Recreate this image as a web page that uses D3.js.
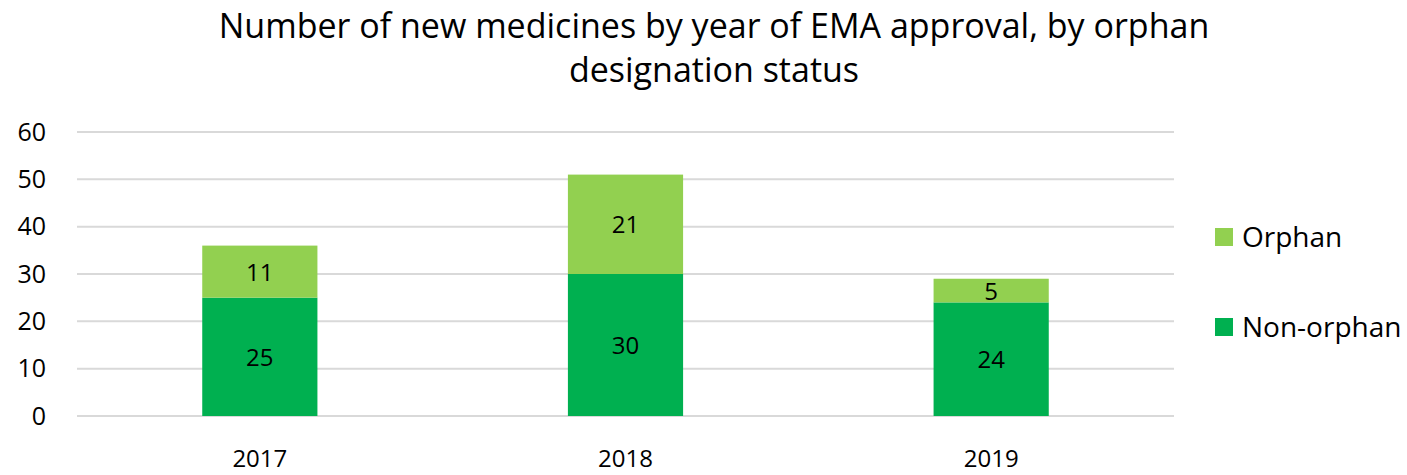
<!DOCTYPE html>
<html>
<head>
<meta charset="utf-8">
<script src="https://cdn.jsdelivr.net/npm/d3@7"></script>
<style>
  body { margin: 0; background: #fff; }
  text { font-family: "Open Sans", Lato, sans-serif; fill: #000; }
</style>
</head>
<body>
<svg class="chart" width="1407" height="475"></svg>
<script>

const years = ['2017', '2018', '2019'];
const nonOrphan = [25, 30, 24];
const orphan = [11, 21, 5];
const yTicks = [0, 10, 20, 30, 40, 50, 60];
const seriesNames = ['Non-orphan', 'Orphan'];
const titleLines = ['Number of new medicines by year of EMA approval, by orphan', 'designation status'];

const colors = { 'Non-orphan': '#00b050', 'Orphan': '#92d050' };

const svg = d3.select('.chart');

const margin = { top: 132, right: 233, bottom: 59, left: 77 };
const w = 1407, h = 475;

const x = d3.scaleBand()
    .domain(years)
    .range([margin.left, w - margin.right])
    .padding(0);

const barW = x.bandwidth() * 0.315;

const y = d3.scaleLinear()
    .domain([0, 60])
    .range([h - margin.bottom, margin.top]);

// title
svg.append('text')
    .attr('text-anchor', 'middle')
    .style('font-size', '34px')
    .selectAll('tspan')
    .data(titleLines)
    .join('tspan')
    .attr('x', 714)
    .attr('y', (d, i) => 38 + i * 44)
    .text(d => d);

// gridlines
svg.append('g')
    .selectAll('line')
    .data(yTicks)
    .join('line')
    .attr('x1', margin.left)
    .attr('x2', w - margin.right)
    .attr('y1', d => y(d))
    .attr('y2', d => y(d))
    .attr('stroke', '#d9d9d9')
    .attr('stroke-width', 2);

// y axis
const yAxis = svg.append('g')
    .attr('transform', `translate(${margin.left - 31},0)`)
    .call(d3.axisLeft(y).tickValues(yTicks).tickSize(0).tickPadding(0));
yAxis.select('.domain').remove();
yAxis.selectAll('text').style('font-size', '25px').style('font-family', '"Open Sans", sans-serif').attr('fill', '#000');

// x axis
const xAxis = svg.append('g')
    .attr('transform', `translate(0,${h - margin.bottom})`)
    .call(d3.axisBottom(x).tickSize(0).tickPadding(34));
xAxis.select('.domain').remove();
xAxis.selectAll('text').style('font-size', '24px').style('font-family', '"Open Sans", sans-serif').attr('fill', '#000');

// stacked bars
const rows = years.map((yr, i) => ({ year: yr, 'Non-orphan': nonOrphan[i], 'Orphan': orphan[i] }));
const stack = d3.stack().keys(seriesNames)(rows);

const layers = svg.append('g')
    .selectAll('g')
    .data(stack)
    .join('g')
    .attr('fill', d => colors[d.key]);

layers.selectAll('rect')
    .data(d => d)
    .join('rect')
    .attr('x', d => x(d.data.year) + (x.bandwidth() - barW) / 2)
    .attr('width', barW)
    .attr('y', d => y(d[1]))
    .attr('height', d => y(d[0]) - y(d[1]));

layers.selectAll('text')
    .data(d => d)
    .join('text')
    .attr('x', d => x(d.data.year) + x.bandwidth() / 2)
    .attr('y', d => (y(d[0]) + y(d[1])) / 2)
    .attr('dy', '0.38em')
    .attr('text-anchor', 'middle')
    .style('font-size', '24px')
    .text(d => d[1] - d[0]);

// legend
const legend = svg.append('g')
    .selectAll('g')
    .data(['Orphan', 'Non-orphan'])
    .join('g')
    .attr('transform', (d, i) => `translate(1215,${228 + i * 90})`);

legend.append('rect')
    .attr('width', 18)
    .attr('height', 18)
    .attr('fill', d => colors[d]);

legend.append('text')
    .attr('x', 27)
    .attr('y', 9)
    .attr('dy', '0.36em')
    .style('font-size', '28px')
    .text(d => d);

</script>
</body>
</html>
